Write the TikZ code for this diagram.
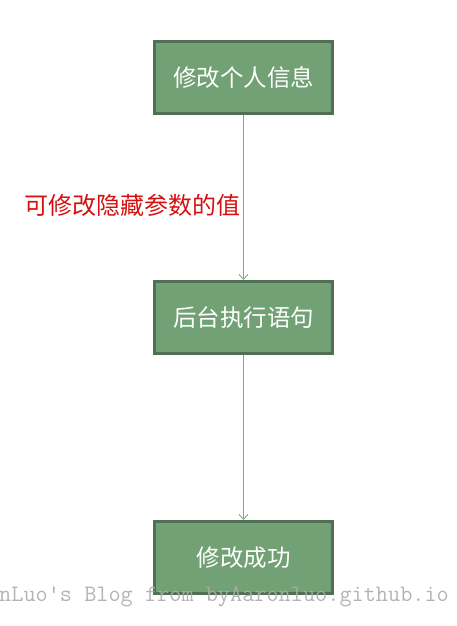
\documentclass[tikz,border=0pt]{standalone}
\usepackage{fontspec}
\setmainfont{Noto Sans CJK SC}
\usepackage{tikz}
\usetikzlibrary{positioning, arrows.meta}
\definecolor{boxfill}{RGB}{113,161,116}
\definecolor{boxline}{RGB}{80,112,84}
\definecolor{flowline}{RGB}{130,168,136}
\definecolor{notered}{RGB}{214,16,16}
\tikzset{
    node distance=165pt, % Gap between two boxes
    procbox/.style={ % Sets the properties for each box
        draw=boxline,
        line width=3pt,
        fill=boxfill,
        minimum width=178pt,
        minimum height=72pt,
        text=white,
        font=\fontsize{23.5pt}{26pt}\selectfont
    },
    flow/.style={ % Sets the properties for each connector
        draw=flowline,
        line width=0.9pt,
        -{Straight Barb[length=5pt,width=9pt]}
    },
}

\begin{document}
\begin{tikzpicture}[x=1pt, y=1pt]
            \useasboundingbox (0,0) rectangle (456,626);
            \node[procbox]                  (edit)  at (243.5,548.5) {修改个人信息};
            \node[procbox, below=of edit]   (exec)  {后台执行语句};
            \node[procbox, below=of exec]   (done)  {修改成功};
            \draw[flow] (edit) -- node[left, pos=0.55, inner sep=3pt, text=notered,
                        font=\fontsize{24pt}{26pt}\selectfont] {可修改隐藏参数的值} (exec);
            \draw[flow] (exec) -- (done);
            % watermark
            \node[anchor=west, inner sep=0pt, text=gray!65, opacity=0.9,
                  font=\ttfamily\fontsize{23.6pt}{26pt}\selectfont] (mark) at (-1,29)
                  {nLuo's Blog from byAaronluo.github.io};
\end{tikzpicture}
\end{document}
